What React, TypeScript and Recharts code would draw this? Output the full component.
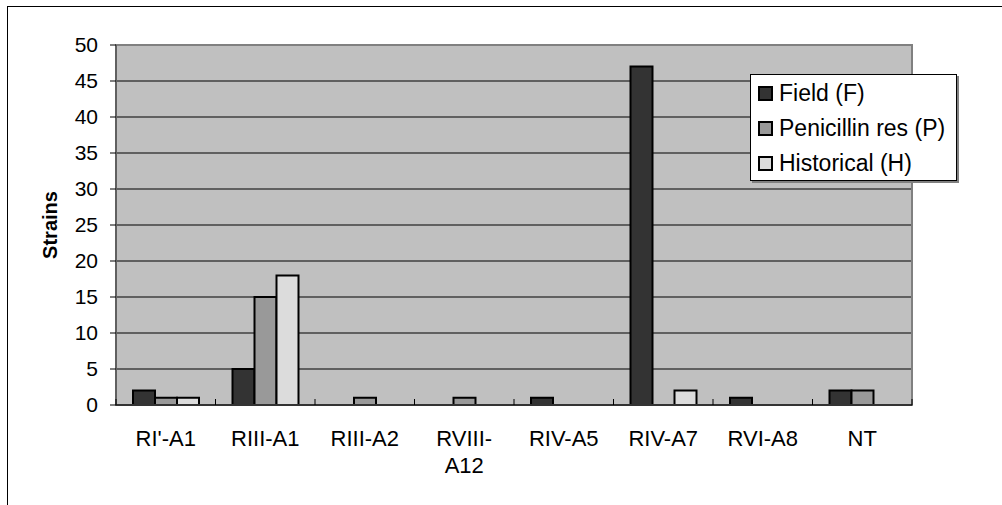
import {
  BarChart,
  Bar,
  XAxis,
  YAxis,
  CartesianGrid,
  Legend,
  ReferenceArea,
} from "recharts";

const categories = ["RI'-A1", "RIII-A1", "RIII-A2", "RVIII-\nA12", "RIV-A5", "RIV-A7", "RVI-A8", "NT"];
const field = [2, 5, 0, 0, 1, 47, 1, 2];
const penicillin = [1, 15, 1, 1, 0, 0, 0, 2];
const historical = [1, 18, 0, 0, 0, 2, 0, 0];
const yTicks = [0, 5, 10, 15, 20, 25, 30, 35, 40, 45, 50];

const seriesNames = ["Field (F)", "Penicillin res (P)", "Historical (H)"];
const seriesColors = ["#333333", "#999999", "#DCDCDC"];
const seriesKeys = ["field", "penicillin", "historical"];

const data = categories.map((c, i) => ({
  name: c,
  field: field[i],
  penicillin: penicillin[i],
  historical: historical[i],
}));

const FONT = '"Liberation Sans", Arial, sans-serif';

// tick label at the middle of the band, tick mark at the band border
const CategoryTick = (props: any) => {
  const { x, y, payload, index, visibleTicksCount, width } = props;
  const half = payload.offset ?? width / visibleTicksCount / 2;
  const lines = String(payload.value).split("\n");
  return (
    <g>
      <line x1={x - half} x2={x - half} y1={y} y2={y - 6} stroke="#000" />
      {index === visibleTicksCount - 1 && (
        <line x1={x + half} x2={x + half} y1={y} y2={y - 6} stroke="#000" />
      )}
      {lines.map((l, i) => (
        <text key={i} x={x} y={y + 41 + i * 27} textAnchor="middle" fontSize={22} fontFamily={FONT} fill="#000">
          {l}
        </text>
      ))}
    </g>
  );
};

const LegendBox = () => (
  <div
    style={{
      background: "#fff",
      border: "1px solid #000",
      boxShadow: "2px 2px 0 #808080",
      width: 207,
      height: 107,
      boxSizing: "border-box",
      padding: "1px 0 0 7px",
      fontFamily: FONT,
      fontSize: 23,
      color: "#000",
    }}
  >
    {seriesNames.map((n, i) => (
      <div key={n} style={{ display: "flex", alignItems: "center", height: 35 }}>
        <span
          style={{
            display: "inline-block",
            width: 15,
            height: 15,
            boxSizing: "border-box",
            border: "2px solid #000",
            background: seriesColors[i],
            marginRight: 6,
          }}
        />
        <span>{n}</span>
      </div>
    ))}
  </div>
);

export default function App() {
  return (
    <div style={{ position: "fixed", left: 0, top: 0, width: 1002, height: 505, overflow: "hidden", background: "#fff" }}>
      <div
        style={{
          position: "absolute",
          left: 7,
          top: 6,
          width: 1100,
          height: 600,
          borderLeft: "1px solid #000",
          borderTop: "1px solid #000",
        }}
      />
      <div style={{ position: "absolute", left: 0, top: 0 }}>
        <BarChart
          width={1002}
          height={505}
          data={data}
          margin={{ top: 45, right: 90, left: 0, bottom: 0 }}
          barSize={22}
          barGap={0}
        >
          <CartesianGrid vertical={false} stroke="#000" fill="#C0C0C0" fillOpacity={1} />
          <ReferenceArea y1={0} y2={50} fill="none" stroke="#808080" strokeWidth={2} ifOverflow="visible" />
          <XAxis
            dataKey="name"
            height={100}
            tickLine={false}
            tickSize={0}
            tickMargin={0}
            interval={0}
            axisLine={{ stroke: "#333", strokeWidth: 2 }}
            tick={<CategoryTick />}
          />
          <YAxis
            width={116}
            domain={[0, 50]}
            ticks={yTicks}
            interval={0}
            tickSize={6}
            tickMargin={12}
            tickLine={{ stroke: "#000" }}
            axisLine={{ stroke: "#404040", strokeWidth: 1 }}
            tick={{ fill: "#000", fontSize: 21, fontFamily: FONT }}
            label={{
              content: ({ viewBox }: any) => (
                <text
                  x={50}
                  y={viewBox.y + viewBox.height / 2}
                  transform={`rotate(-90 50 ${viewBox.y + viewBox.height / 2})`}
                  textAnchor="middle"
                  dominantBaseline="central"
                  fontSize={20}
                  fontWeight="bold"
                  fontFamily={FONT}
                  fill="#000"
                >
                  Strains
                </text>
              ),
            }}
          />
          <Legend
            layout="vertical"
            align="center"
            verticalAlign="middle"
            wrapperStyle={{ position: "absolute", left: 750, top: 74, width: 207, height: 107 }}
            content={<LegendBox />}
          />
          {seriesKeys.map((k, i) => (
            <Bar
              key={k}
              dataKey={k}
              name={seriesNames[i]}
              fill={seriesColors[i]}
              stroke="#000"
              strokeWidth={2}
              isAnimationActive={false}
            />
          ))}
        </BarChart>
      </div>
    </div>
  );
}
